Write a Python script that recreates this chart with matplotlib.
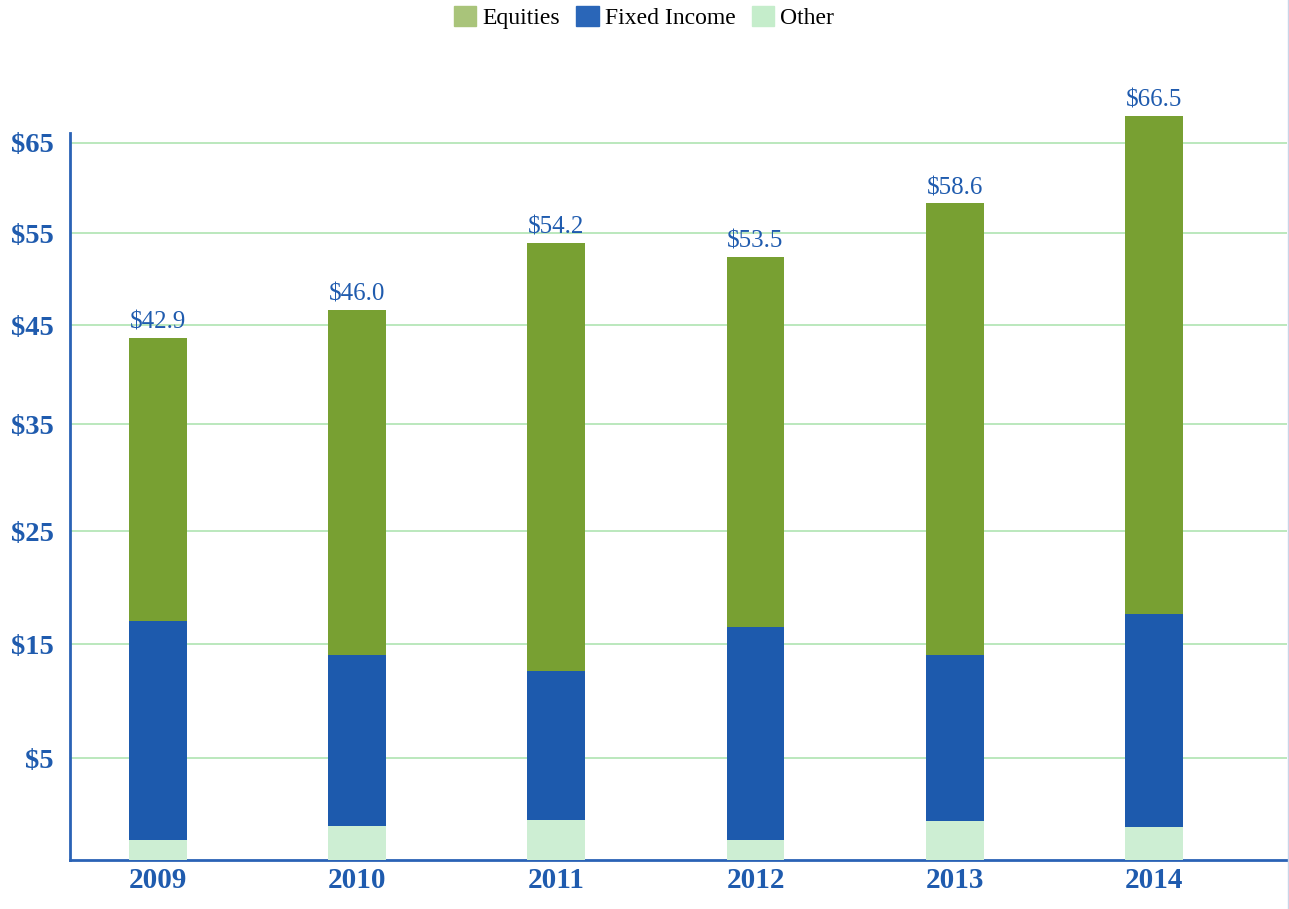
import numpy as np
import matplotlib
matplotlib.use('Agg')
import matplotlib.pyplot as plt
from matplotlib.patches import Patch
from matplotlib.lines import Line2D

years = ['2009', '2010', '2011', '2012', '2013', '2014']
other = [0.98, 1.67, 1.97, 0.98, 1.93, 1.62]
fixed_income = [16.09, 12.37, 10.69, 15.53, 12.11, 16.04]
equities = [26.67, 32.62, 41.29, 35.91, 44.27, 50.29]
total_labels = ['$42.9', '$46.0', '$54.2', '$53.5', '$58.6', '$66.5']
tick_values = [5, 15, 25, 35, 45, 55, 65]

# the original axis is not evenly spaced, so map values through its grid spacing
scale_vals = np.array([-10, 0, 5, 15, 25, 35, 45, 55, 65, 100])
scale_pos = np.array([-203.4, 0, 101.7, 216, 328.7, 436, 534.7, 626.7, 717.3, 1034.4])


def forward(v):
    return np.interp(v, scale_vals, scale_pos)


def inverse(p):
    return np.interp(p, scale_pos, scale_vals)


c_eq = '#78a032'
c_fi = '#1d5aad'
c_ot = '#cdeed3'
c_txt = '#1f5bae'
c_grid = '#a8e2ab'

plt.rcParams['font.family'] = ['Liberation Serif', 'DejaVu Serif']

fig = plt.figure(figsize=(12.89, 9.09), dpi=100)
ax = fig.add_axes([69.7 / 1289, 49 / 909, (1287 - 69.7) / 1289, (860 - 60) / 909])
ax.set_yscale('function', functions=(forward, inverse))

x = np.arange(len(years))
w = 0.29
ot = np.array(other)
fi = np.array(fixed_income)
eq = np.array(equities)
ax.bar(x, ot, w, color=c_ot, zorder=3)
ax.bar(x, fi, w, bottom=ot, color=c_fi, zorder=3)
ax.bar(x, eq, w, bottom=ot + fi, color=c_eq, zorder=3)

for xi, top, lab in zip(x, ot + fi + eq, total_labels):
    ax.annotate(lab, (xi, top), xytext=(0, 3), textcoords='offset points',
                ha='center', va='bottom', fontsize=18, color=c_txt,
                annotation_clip=False)

ax.set_xlim(-0.443, 5.668)
ax.set_ylim(0, inverse(800))
ax.set_yticks(tick_values)
ax.set_yticklabels(['$%d' % v for v in tick_values])
ax.set_xticks(x)
ax.set_xticklabels(years)
ax.tick_params(axis='y', length=0, pad=11.5, labelsize=20.5, labelcolor=c_txt)
ax.tick_params(axis='x', length=0, pad=5, labelsize=21, labelcolor=c_txt)
for t in ax.get_yticklabels() + ax.get_xticklabels():
    t.set_fontweight('bold')

ax.grid(axis='y', color=c_grid, lw=1.1, zorder=0)
ax.grid(axis='x', visible=False)

for s in ['top', 'right']:
    ax.spines[s].set_visible(False)
ax.spines['left'].set_color('#2a62b5')
ax.spines['left'].set_linewidth(2)
ax.spines['left'].set_bounds(0, inverse(727))
ax.spines['bottom'].set_color('#2a62b5')
ax.spines['bottom'].set_linewidth(2)

# thin border line at the right edge of the image
fig.add_artist(Line2D([1287.5 / 1289] * 2, [0, 1], color='#c9d5e8', lw=1))

handles = [Patch(color='#a9c47a', label='Equities'),
           Patch(color='#2a66b8', label='Fixed Income'),
           Patch(color='#c5edcb', label='Other')]
fig.legend(handles=handles, loc='center', bbox_to_anchor=(644 / 1289, 0.981),
           ncol=3, frameon=False, fontsize=17, handlelength=0.95, handleheight=0.95,
           handletextpad=0.25, columnspacing=0.7, borderpad=0)

fig.savefig('out.png', dpi=100)
